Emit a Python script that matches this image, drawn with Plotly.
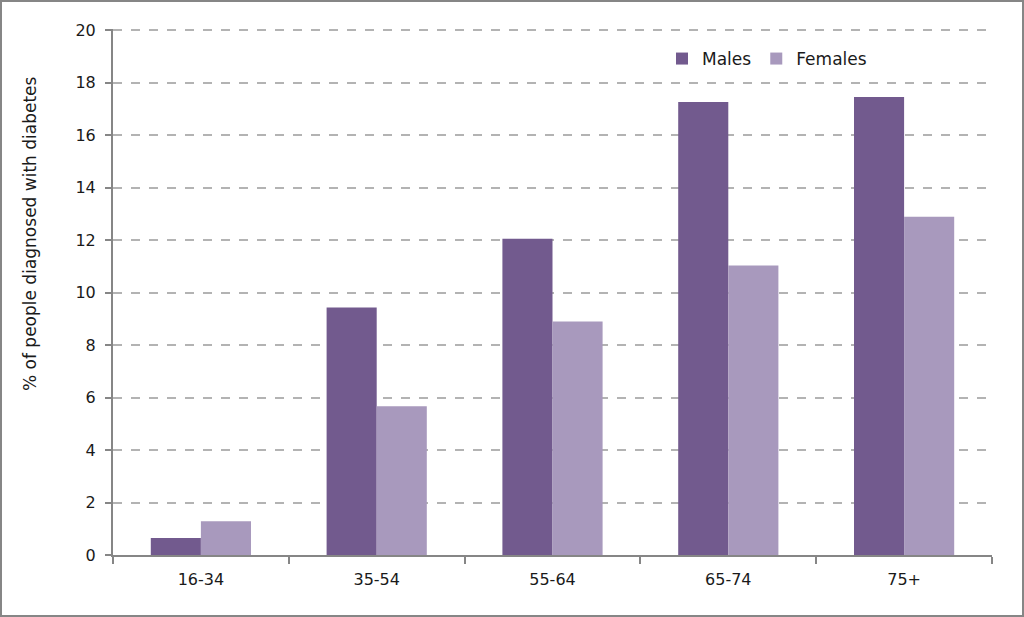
import plotly.graph_objects as go

categories = ["16-34", "35-54", "55-64", "65-74", "75+"]
males = [0.65, 9.43, 12.05, 17.26, 17.45]
females = [1.29, 5.67, 8.9, 11.03, 12.89]
y_ticks = [0, 2, 4, 6, 8, 10, 12, 14, 16, 18, 20]

W, H = 1024, 617
ml, mr, mt, mb = 113, 32, 29, 62
pw, ph = W - ml - mr, H - mt - mb

fam = "DejaVu Sans, Tahoma, Verdana, sans-serif"
font = dict(family=fam, size=15, color="#1a1a1a")

fig = go.Figure()
fig.add_trace(go.Bar(x=categories, y=males, name="Males", marker=dict(color="#725A8E", line=dict(width=0))))
fig.add_trace(go.Bar(x=categories, y=females, name="Females", marker=dict(color="#A899BD", line=dict(width=0))))

def px_x(p):
    return (p - ml) / pw

def px_y(p):
    return (H - mb - p) / ph

fig.update_layout(
    width=W, height=H,
    margin=dict(l=ml, r=mr, t=mt, b=mb, autoexpand=False),
    paper_bgcolor="white", plot_bgcolor="white",
    barmode="group", bargap=0.43, bargroupgap=0,
    font=font,
    showlegend=True,
    legend=dict(orientation="h", x=px_x(662), y=px_y(59), xanchor="left", yanchor="middle",
                font=dict(size=17, family=fam, color="#1a1a1a"),
                bgcolor="rgba(0,0,0,0)", itemwidth=30, tracegroupgap=0),
    xaxis=dict(showline=True, linecolor="#868686", linewidth=2, ticks="outside", tickson="boundaries",
               ticklen=7, tickcolor="#868686", tickwidth=2, showgrid=False,
               tickfont=dict(size=16), ticklabelstandoff=9),
    yaxis=dict(range=[0, 20.04], tickvals=y_ticks, showline=True, linecolor="#868686", linewidth=2,
               ticks="outside", ticklen=6, tickcolor="#868686", tickwidth=2,
               showgrid=True, gridcolor="#B3B3B3", griddash="dash", gridwidth=1.5,
               zeroline=False, tickfont=dict(size=16), ticklabelstandoff=6),
    annotations=[dict(text="% of people diagnosed with diabetes", textangle=-90,
                      xref="paper", yref="paper", x=px_x(30), y=px_y(234),
                      xanchor="center", yanchor="middle", showarrow=False,
                      font=dict(size=17, family=fam, color="#1a1a1a"))],
    shapes=[dict(type="rect", xref="paper", yref="paper",
                 x0=px_x(1), x1=px_x(W - 1), y0=px_y(H - 1), y1=px_y(1),
                 line=dict(color="#868686", width=2), fillcolor="rgba(0,0,0,0)", layer="below")],
)

fig.write_html("out.html")
